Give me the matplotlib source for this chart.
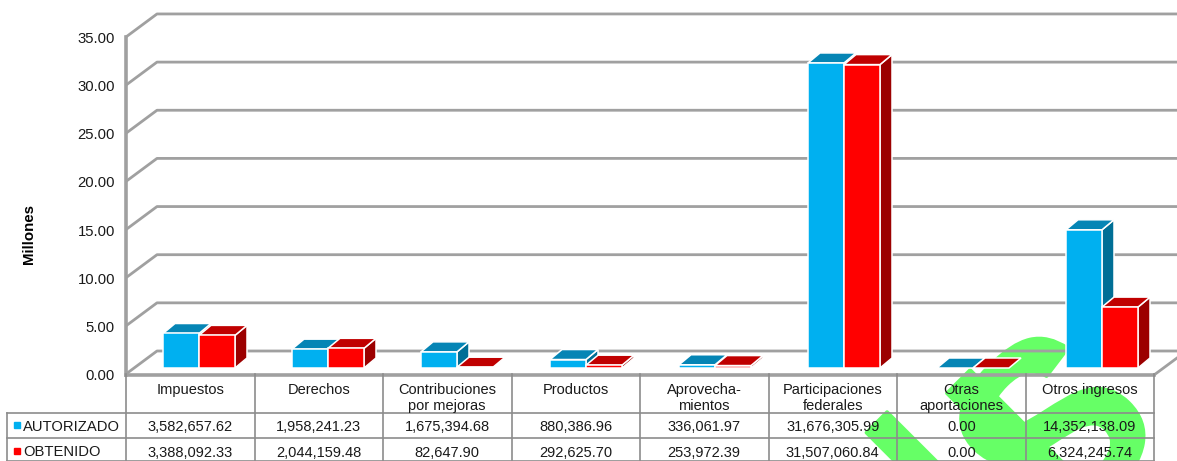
import matplotlib
matplotlib.use("Agg")
import matplotlib.pyplot as plt
import matplotlib.patheffects as pe

plt.rcParams["font.family"] = ["Liberation Sans", "DejaVu Sans"]

categorias = ["Impuestos", "Derechos", "Contribuciones\npor mejoras", "Productos", "Aprovecha-\nmientos",
              "Participaciones\nfederales", "Otras\naportaciones", "Otros ingresos"]
autorizado = [3582657.62, 1958241.23, 1675394.68, 880386.96, 336061.97, 31676305.99, 0.00, 14352138.09]
obtenido = [3388092.33, 2044159.48, 82647.90, 292625.70, 253972.39, 31507060.84, 0.00, 6324245.74]
ticks = [0, 5, 10, 15, 20, 25, 30, 35]

W, H = 1177, 461
PX = 128.5   # pixeles por categoria
PY = 9.63    # pixeles por millon
X0, Y0 = 126, 374

GRIS = "#a0a0a0"
TXT = "#1a1a1a"

def px(n):
    return n / PX

def py(n):
    return n / PY

# caja 3D falsa: lado, tapa y frente
def caja(ax, x, w, v, base, dx, dy, frente, tapa, lado):
    t = base + v
    ec = dict(edgecolor="white", linewidth=1.1, zorder=4, joinstyle="miter")
    if v > 0:
        ax.fill([x + w, x + w + dx, x + w + dx, x + w], [base, base + dy, t + dy, t], facecolor=lado, **ec)
    ax.fill([x, x + dx, x + w + dx, x + w], [t, t + dy, t + dy, t], facecolor=tapa, **ec)
    if v > 0:
        ax.fill([x, x + w, x + w, x], [base, base, t, t], facecolor=frente, **ec)

fig = plt.figure(figsize=(W / 100, H / 100), dpi=100)
ax = fig.add_axes([0, 0, 1, 1])
ax.set_xlim(-X0 / PX, (W - X0) / PX)
ax.set_ylim(-(H - Y0) / PY, Y0 / PY)
ax.axis("off")

# marca de agua, letra por letra
for letra, lx, ly, fs in [("N", 951, 571, 165), ("I", 1070, 493, 165), ("S", 1112, 490, 180)]:
    ax.text(px(lx - X0), py(Y0 - ly), letra, color="#66ff66", fontsize=fs, fontweight="bold",
            rotation=45, ha="center", va="baseline", zorder=1, rotation_mode="anchor",
            path_effects=[pe.withStroke(linewidth=2.5, foreground="#66ff66")])

# pared del fondo
bx, by = px(31), py(23)
n = len(categorias)
for t in ticks:
    ax.plot([0, bx, (W - X0) / PX], [t, t + by, t + by], color=GRIS, lw=2, zorder=2, solid_capstyle="butt")
    ax.text(px(-11), t - py(2), f"{t:.2f}", ha="right", va="center", fontsize=10.7, color=TXT, zorder=6)
ax.plot([0, 0], [-py(1), ticks[-1]], color=GRIS, lw=2.6, zorder=3)
ax.plot([0, n], [-py(1), -py(1)], color=GRIS, lw=2.6, zorder=3)
ax.plot([n, n + px(23)], [-py(1), py(16)], color=GRIS, lw=2, zorder=3)
ax.text(px(28.5 - X0), py(Y0 - 234), "Millones", rotation=90, ha="center", va="center",
        fontsize=10.8, fontweight="bold", color="black", zorder=6)

# barras
base = py(6)
off, w = px(37), px(36)
paso = px(129)
dx, dy = px(12), py(10)
for i in range(n):
    xb = off + i * paso
    caja(ax, xb, w, autorizado[i] / 1e6, base, dx, dy, "#00b0f0", "#0585b5", "#006f96")
    caja(ax, xb + w, w, obtenido[i] / 1e6, base, dx, dy, "#ff0000", "#c00000", "#9c0000")

# tabla de datos
y1, y2, y3 = py(Y0 - 413), py(Y0 - 438), py(Y0 - 461)
for i in range(n + 1):
    ax.plot([i, i], [0, y3], color="#8c8c8c", lw=1.2, zorder=3)
ax.plot([px(7 - X0), px(7 - X0)], [y1, y3], color="#8c8c8c", lw=1.2, zorder=3)
for yy in [y1, y2, y3 + py(0.5)]:
    ax.plot([px(7 - X0), n], [yy, yy], color="#8c8c8c", lw=1.2, zorder=3)

for i, c in enumerate(categorias):
    ax.text(i + 0.5, py(Y0 - 382.5), c, ha="center", va="top", fontsize=10.5, color=TXT,
            linespacing=1.22, zorder=6)
    ax.text(i + 0.5, py(Y0 - 427), f"{autorizado[i]:,.2f}", ha="center", va="center", fontsize=10.5, color=TXT, zorder=6)
    ax.text(i + 0.5, py(Y0 - 453), f"{obtenido[i]:,.2f}", ha="center", va="center", fontsize=10.5, color=TXT, zorder=6)

# leyenda de la tabla
ax.plot(px(16.5 - X0), py(Y0 - 425), "s", color="#00b0f0", ms=3.8, zorder=6)
ax.plot(px(16.5 - X0), py(Y0 - 451), "s", color="#ff0000", ms=3.8, zorder=6)
ax.text(px(23 - X0), py(Y0 - 427), "AUTORIZADO", ha="left", va="center", fontsize=10.6, color=TXT, zorder=6)
ax.text(px(23 - X0), py(Y0 - 452), "OBTENIDO", ha="left", va="center", fontsize=10.6, color=TXT, zorder=6)

fig.savefig("out.png", dpi=100)
